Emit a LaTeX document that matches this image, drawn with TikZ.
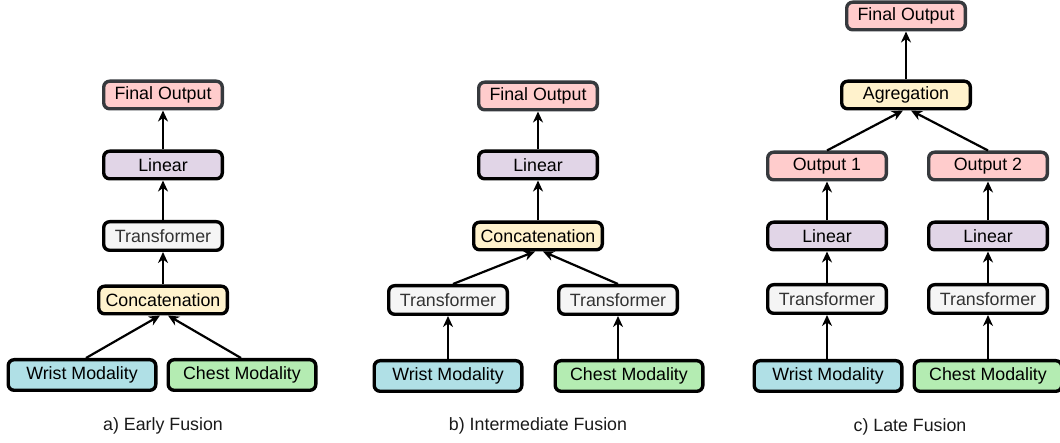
\documentclass[tikz,border=0pt]{standalone}
\usepackage{fontspec}
\setmainfont{Liberation Sans}
\usetikzlibrary{arrows.meta}
\definecolor{outfill}{HTML}{FFCCCC}
\definecolor{outdraw}{HTML}{36393D}
\definecolor{linfill}{HTML}{E1D5E7}
\definecolor{trfill}{HTML}{F5F5F5}
\definecolor{trtext}{HTML}{333333}
\definecolor{catfill}{HTML}{FFF2CC}
\definecolor{wristfill}{RGB}{176,224,230}
\definecolor{chestfill}{RGB}{180,236,178}
\definecolor{captext}{HTML}{1A1A1A}
\tikzset{
  blk/.style={draw=black, line width=3.4pt, rounded corners=6pt, inner sep=0pt,
    minimum width=118.6pt, minimum height=27.6pt,
    font=\fontsize{17.8}{20}\selectfont},
  outbox/.style={blk, fill=outfill, draw=outdraw},
  linbox/.style={blk, fill=linfill},
  trbox/.style={blk, fill=trfill, text=trtext, minimum height=28.6pt},
  catbox/.style={blk, fill=catfill, minimum width=128.6pt},
  wristbox/.style={blk, fill=wristfill, minimum width=147.6pt, minimum height=30.6pt},
  chestbox/.style={blk, fill=chestfill, minimum width=147.6pt, minimum height=30.6pt},
  caption/.style={text=captext, font=\fontsize{17.8}{20}\selectfont},
  flow/.style={line width=2.2pt, -{Stealth[length=11pt,width=10pt,inset=3.5pt]}}
}
\begin{document}
\begin{tikzpicture}[x=1pt,y=-1pt]
\useasboundingbox (0,0) rectangle (1060,443);

% a) Early Fusion
\node[outbox]   (fa) at (163,95)  {Final Output};
\node[linbox]   (la) at (163,165) {Linear};
\node[trbox]    (ta) at (163,236) {Transformer};
\node[catbox]   (ca) at (163,300) {Concatenation};
\node[wristbox] (wa) at (82,375)  {Wrist Modality};
\node[chestbox] (sa) at (242,375) {Chest Modality};
\node[caption]  (capa) at (163,426) {a) Early Fusion};

\draw[flow] ([xshift=4pt]wa.north) -- ([xshift=-3pt]ca.south);
\draw[flow] ([xshift=-1pt]sa.north) -- ([xshift=5pt]ca.south);
\draw[flow] (ca) -- (ta);
\draw[flow] (ta) -- (la);
\draw[flow] (la) -- (fa);

% b) Intermediate Fusion
\node[outbox]   (fb)  at (538,96)  {Final Output};
\node[linbox]   (lb)  at (538,165) {Linear};
\node[catbox]   (cb)  at (538,236) {Concatenation};
\node[trbox]    (tbl) at (448,300) {Transformer};
\node[trbox]    (tbr) at (618,300) {Transformer};
\node[wristbox] (wb)  at (448,376) {Wrist Modality};
\node[chestbox] (sb)  at (629,376) {Chest Modality};
\node[caption]  (capb) at (538,426) {b) Intermediate Fusion};

\draw[flow] (wb) -- (tbl);
\draw[flow] (sb.north -| tbr.south) -- (tbr.south);
\draw[flow] ([xshift=5pt]tbl.north) -- ([xshift=-3pt]cb.south);
\draw[flow] (tbr.north) -- ([xshift=5pt]cb.south);
\draw[flow] (cb) -- (lb);
\draw[flow] (lb) -- (fb);

% c) Late Fusion
\node[outbox]   (fc) at (906,16)  {Final Output};
\node[catbox]   (gc) at (906,95)  {Agregation};
\node[outbox]   (o1) at (827,166) {Output 1};
\node[outbox]   (o2) at (988,166) {Output 2};
\node[linbox]   (l1) at (827,236) {Linear};
\node[linbox]   (l2) at (988,236) {Linear};
\node[trbox]    (t1) at (827,299) {Transformer};
\node[trbox]    (t2) at (988,299) {Transformer};
\node[wristbox] (wc) at (828,376) {Wrist Modality};
\node[chestbox] (sc) at (988,376) {Chest Modality};
\node[caption]  (capc) at (910,427) {c) Late Fusion};

\draw[flow] (wc.north -| t1.south) -- (t1.south);
\draw[flow] (sc.north -| t2.south) -- (t2.south);
\draw[flow] (t1) -- (l1);
\draw[flow] (t2) -- (l2);
\draw[flow] (l1) -- (o1);
\draw[flow] (l2) -- (o2);
\draw[flow] (o1.north) -- ([xshift=-3pt]gc.south);
\draw[flow] (o2.north) -- ([xshift=5pt]gc.south);
\draw[flow] (gc) -- (fc);
\end{tikzpicture}
\end{document}
